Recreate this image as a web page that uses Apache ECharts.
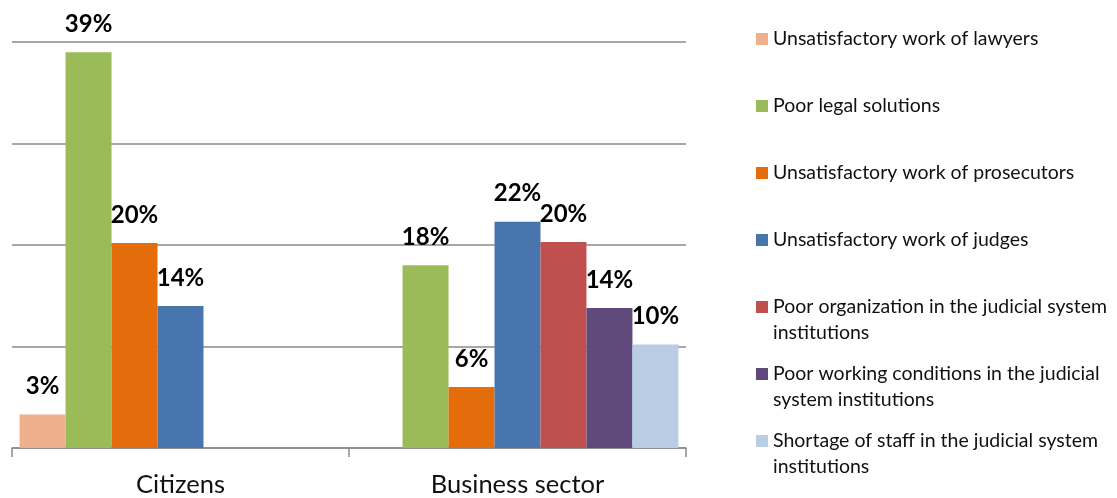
<!DOCTYPE html>
<html><head><meta charset="utf-8">
<script src="https://cdn.jsdelivr.net/npm/echarts@6/dist/echarts.min.js"></script>
<style>html,body{margin:0;padding:0;background:#fff}#c{width:1117px;height:498px}</style>
</head><body><div id="c"></div>
<script>
const categories = ['Citizens', 'Business sector'];
const seriesNames = [
  'Unsatisfactory work of lawyers',
  'Poor legal solutions',
  'Unsatisfactory work of prosecutors',
  'Unsatisfactory work of judges',
  'Poor organization in the judicial system institutions',
  'Poor working conditions in the judicial system institutions',
  'Shortage of staff in the judicial system institutions'
];
const legendLabels = [
  'Unsatisfactory work of lawyers',
  'Poor legal solutions',
  'Unsatisfactory work of prosecutors',
  'Unsatisfactory work of judges',
  'Poor organization in the judicial system\ninstitutions',
  'Poor working conditions in the judicial\nsystem institutions',
  'Shortage of staff in the judicial system\ninstitutions'
];
const lawyers = [3.3, null];
const legalSolutions = [39, 18];
const prosecutors = [20.2, 6];
const judges = [14, 22.3];
const organization = [null, 20.3];
const workingConditions = [null, 13.8];
const staffShortage = [null, 10.2];
const seriesValues = [lawyers, legalSolutions, prosecutors, judges, organization, workingConditions, staffShortage];
const colors = ['#EEAF8C', '#9BBB59', '#E46C0A', '#4875AD', '#C0504D', '#604A7B', '#B9CDE5'];
const yTicks = [0, 10, 20, 30, 40];

const FONT = 'Lato, "Open Sans", sans-serif';
const legendTops = [26, 93, 160, 227, 294, 361, 428];

const legends = seriesNames.map((name, i) => {
  const twoLine = legendLabels[i].indexOf('\n') >= 0;
  return {
    data: [name],
    left: 756,
    top: legendTops[i],
    orient: 'vertical',
    padding: 0,
    itemWidth: 12,
    itemHeight: twoLine ? 38 : 12,
    icon: twoLine ? 'path://M0,0h12v12h-12zM0,37.9h12' : 'rect',
    selectedMode: false,
    formatter: () => legendLabels[i],
    textStyle: { fontFamily: FONT, fontSize: 19.5, lineHeight: 26, color: '#111' }
  };
});

const chart = echarts.init(document.getElementById('c'), null, { renderer: 'canvas' });
chart.setOption({
  animation: false,
  color: colors,
  legend: legends,
  grid: { left: 12, right: 431, top: 42, bottom: 49 },
  xAxis: {
    type: 'category',
    data: categories,
    axisLine: { lineStyle: { color: '#8a8a8a', width: 1.5 } },
    axisTick: { show: true, length: 9, lineStyle: { color: '#8a8a8a', width: 1.5 } },
    axisLabel: { fontFamily: FONT, fontSize: 25.5, color: '#111', margin: 24 }
  },
  yAxis: {
    type: 'value',
    min: yTicks[0], max: yTicks[yTicks.length - 1], interval: 10,
    axisLabel: { show: false },
    axisLine: { show: false },
    axisTick: { show: false },
    splitLine: { lineStyle: { color: '#8a8a8a', width: 1.5 } }
  },
  series: seriesNames.map((name, i) => ({
    name: name,
    type: 'bar',
    data: seriesValues[i],
    barGap: '0%',
    barCategoryGap: '4.5%',
    itemStyle: { color: colors[i] },
    label: {
      show: true,
      position: 'top',
      distance: 16,
      fontFamily: FONT,
      fontSize: 24,
      fontWeight: 'bold',
      color: '#000',
      formatter: p => (p.value == null ? '' : Math.round(p.value) + '%')
    }
  }))
});
</script></body></html>
